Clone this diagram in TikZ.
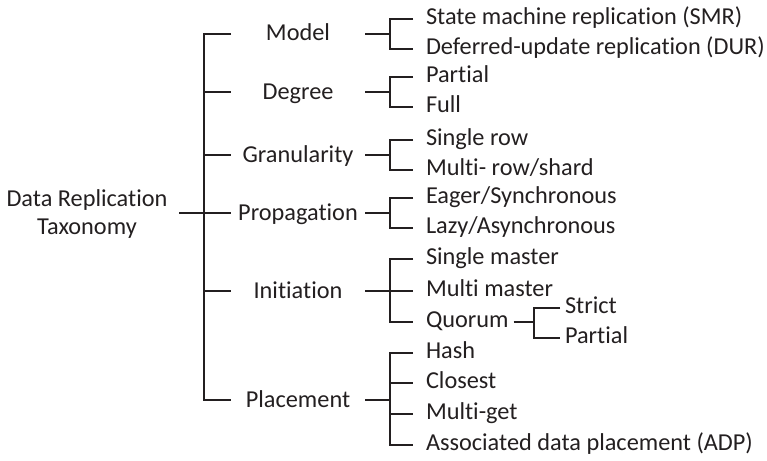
\documentclass[tikz,border=0pt]{standalone}
\usepackage{fontspec}
\setmainfont{Carlito}[Ligatures=NoCommon]
\usetikzlibrary{calc}
\definecolor{ink}{RGB}{35,31,32}
\begin{document}
\begin{tikzpicture}[x=1pt,y=-1pt,
  every node/.style={text=ink, font=\fontsize{24.3}{28}\selectfont, inner sep=0pt, outer sep=0pt},
  cat/.style={text height=17pt, text depth=3pt, anchor=center},
  leaf/.style={text height=16pt, text depth=5pt, anchor=west},
  conn/.style={draw=ink, line width=2pt}]
\useasboundingbox (0,0) rectangle (767,460);
% column x positions
\coordinate (bx) at (204,0);
\coordinate (tx) at (231,0);
\coordinate (ex) at (365,0);
\coordinate (cx) at (390,0);
\coordinate (lx) at (413,0);
\coordinate (qx) at (534,0);
\coordinate (qlx) at (560,0);
% root
\node[align=center] (root) at (87,214) {Data Replication\\Taxonomy};
% categories
\node[cat] (model) at (298,34) {Model};
\node[cat] (degree) at (298,92) {Degree};
\node[cat] (gran) at (298,155) {Granularity};
\node[cat] (prop) at (298,213) {Propagation};
\node[cat] (init) at (298,291) {Initiation};
\node[cat] (place) at (298,400) {Placement};
% leaves
\node[leaf] (smr) at (426,19) {State machine replication (SMR)};
\node[leaf] (dur) at (426,49) {Deferred-update replication (DUR)};
\node[leaf] (partial) at (426,77) {Partial};
\node[leaf] (full) at (426,107) {Full};
\node[leaf] (srow) at (426,140) {Single row};
\node[leaf] (mrow) at (426,170) {Multi- row/shard};
\node[leaf] (eager) at (426,198) {Eager/Synchronous};
\node[leaf] (lazy) at (426,228) {Lazy/Asynchronous};
\node[leaf] (smaster) at (426,259) {Single master};
\node[leaf] (mmaster) at (426,291) {Multi master};
\node[leaf] (quorum) at (426,322) {Quorum};
\node[leaf] (hash) at (426,353) {Hash};
\node[leaf] (closest) at (426,383) {Closest};
\node[leaf] (mget) at (426,414) {Multi-get};
\node[leaf] (adp) at (426,445) {Associated data placement (ADP)};
\node[leaf] (strict) at (565,308) {Strict};
\node[leaf] (qpartial) at (565,338) {Partial};
% root connector
\draw[conn] ($(root.east |- prop)+(12,0)$) -- (tx |- prop);
% main bar
\draw[conn] (tx |- model) -| (bx |- place) -- (tx |- place);
\foreach \n in {degree,gran,init} \draw[conn] (bx |- \n) -- (tx |- \n);
% category to bracket
\foreach \n in {model,degree,gran,prop,init,place} \draw[conn] (ex |- \n) -- (cx |- \n);
% brackets
\draw[conn] (lx |- smr) -| (cx |- dur) -- (lx |- dur);
\draw[conn] (lx |- partial) -| (cx |- full) -- (lx |- full);
\draw[conn] (lx |- srow) -| (cx |- mrow) -- (lx |- mrow);
\draw[conn] (lx |- eager) -| (cx |- lazy) -- (lx |- lazy);
\draw[conn] (lx |- smaster) -| (cx |- quorum) -- (lx |- quorum);
\draw[conn] (cx |- mmaster) -- (lx |- mmaster);
\draw[conn] (lx |- hash) -| (cx |- adp) -- (lx |- adp);
\draw[conn] (cx |- closest) -- (lx |- closest);
\draw[conn] (cx |- mget) -- (lx |- mget);
% quorum sub-bracket
\draw[conn] ($(quorum.east)+(5,0)$) -- (qx |- quorum);
\draw[conn] (qlx |- strict) -| (qx |- qpartial) -- (qlx |- qpartial);
\end{tikzpicture}
\end{document}
